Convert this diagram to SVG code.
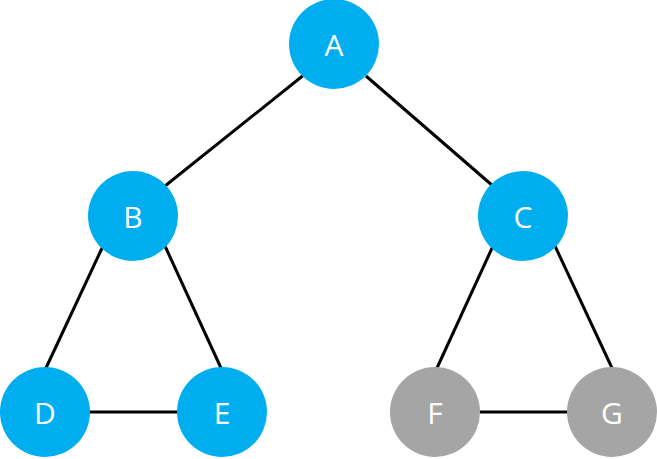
<svg xmlns="http://www.w3.org/2000/svg" width="657" height="459" viewBox="0 0 657 459">
<style>
.b{fill:#00AEEF}.g{fill:#A5A5A5}
text{font-family:"Open Sans","DejaVu Sans",sans-serif;font-size:30px;fill:#fff;text-anchor:middle;dominant-baseline:central}
#edges line{stroke:#000;stroke-width:3}
</style>
<rect width="657" height="459" fill="#fff"/>
<g id="edges">
<line x1="305" y1="74" x2="165" y2="186"/>
<line x1="366" y1="76" x2="493" y2="186"/>
<line x1="103" y1="246" x2="46" y2="368"/>
<line x1="165" y1="246" x2="221" y2="368"/>
<line x1="89" y1="412" x2="178" y2="412"/>
<line x1="493" y1="246" x2="437" y2="368"/>
<line x1="555" y1="246" x2="612" y2="368"/>
<line x1="480" y1="412" x2="568" y2="412"/>
</g>
<g id="A"><circle class="b" cx="334" cy="44" r="45"/><text x="334" y="44">A</text></g>
<g id="B"><circle class="b" cx="133" cy="216" r="45"/><text x="133" y="216">B</text></g>
<g id="C"><circle class="b" cx="523" cy="216" r="45"/><text x="523" y="216">C</text></g>
<g id="D"><circle class="b" cx="45" cy="412" r="45"/><text x="45" y="412">D</text></g>
<g id="E"><circle class="b" cx="222" cy="412" r="45"/><text x="222" y="412">E</text></g>
<g id="F"><circle class="g" cx="435" cy="412" r="45"/><text x="435" y="412">F</text></g>
<g id="G"><circle class="g" cx="612" cy="412" r="45"/><text x="612" y="412">G</text></g>
</svg>
